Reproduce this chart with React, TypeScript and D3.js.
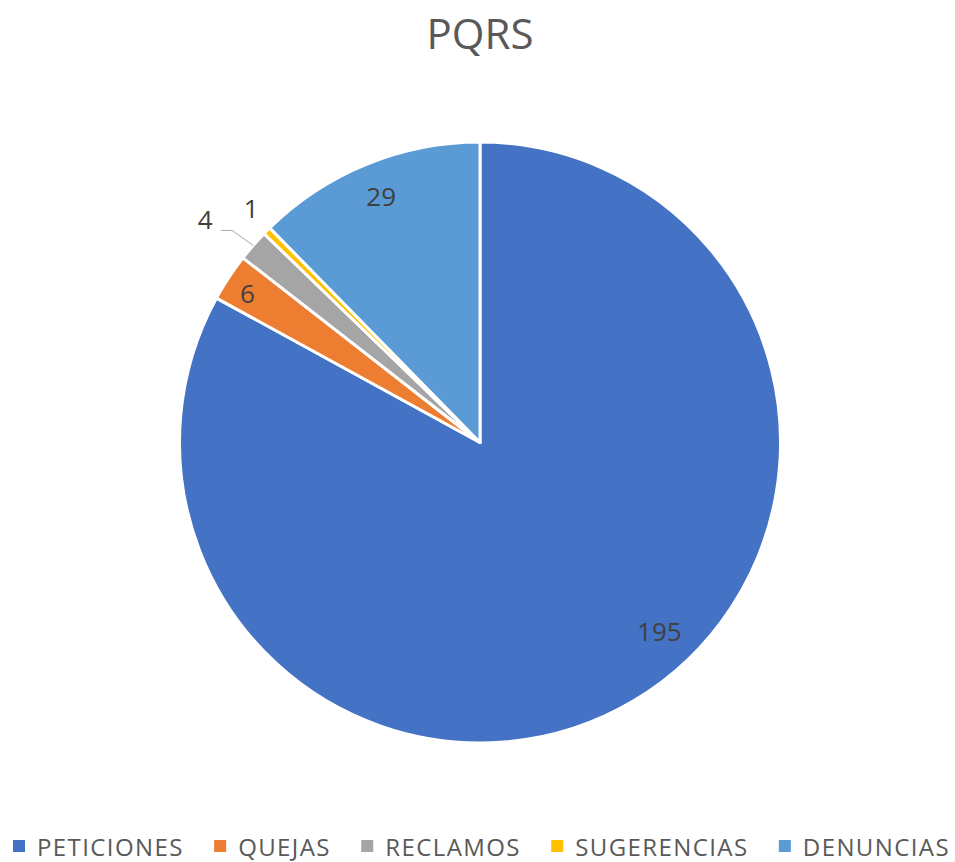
import * as d3 from "d3";
import React, { useEffect, useRef } from "react";

const categories = ["PETICIONES", "QUEJAS", "RECLAMOS", "SUGERENCIAS", "DENUNCIAS"];
const values = [195, 6, 4, 1, 29];
const colors = ["#4472C4", "#ED7D31", "#A5A5A5", "#FFC000", "#5B9BD5"];
// label placement (fraction of radius, angle shift in degrees), like excel "best fit"
const labelRadius = [0.865, 0.92, 1.18, 1.09, 0.885];
const labelShift = [-13, -0.6, -1.8, 0.9, 0.4];

const W = 955;
const H = 862;

function drawChart(node: SVGSVGElement) {
  const svg = d3.select(node);
  svg.selectAll("*").remove();

  // title
  svg
    .append("text")
    .attr("x", 480)
    .attr("y", 49)
    .attr("text-anchor", "middle")
    .attr("fill", "#595959")
    .style("font-family", "'Open Sans', sans-serif")
    .style("font-size", "42px")
    .text("PQRS");

  const cx = 480,
    cy = 442.5,
    R = 300.5;

  const data = categories.map((c, i) => ({ name: c, value: values[i], color: colors[i], i }));
  const pie = d3
    .pie<any>()
    .sort(null)
    .value(d => d.value);
  const arcs = pie(data);
  const arc = d3.arc<any>().innerRadius(0).outerRadius(R);

  const g = svg.append("g").attr("transform", `translate(${cx},${cy})`);
  g.selectAll("path")
    .data(arcs)
    .join("path")
    .attr("d", arc)
    .attr("fill", d => d.data.color)
    .attr("stroke", "#fff")
    .attr("stroke-width", 3)
    .attr("stroke-linejoin", "round");

  // labels
  arcs.forEach((a, i) => {
    const mid = (a.startAngle + a.endAngle) / 2 + (labelShift[i] * Math.PI) / 180;
    const r = R * labelRadius[i];
    const x = Math.sin(mid) * r;
    const y = -Math.cos(mid) * r;
    g.append("text")
      .attr("x", x)
      .attr("y", y)
      .attr("text-anchor", "middle")
      .attr("dominant-baseline", "central")
      .attr("fill", "#404040")
      .style("font-family", "'Open Sans', sans-serif")
      .style("font-size", "26px")
      .text(a.data.value);

    // leader line for the small outside label
    if (i === 2) {
      const am = (a.startAngle + a.endAngle) / 2;
      const p0: [number, number] = [Math.sin(am) * R, -Math.cos(am) * R];
      const p1: [number, number] = [p0[0] - 21, p0[1] - 15];
      const p2: [number, number] = [p1[0] - 11, p1[1]];
      g.append("path")
        .attr("d", d3.line()([p0, p1, p2]))
        .attr("fill", "none")
        .attr("stroke", "#A6A6A6")
        .attr("stroke-width", 1);
    }
  });

  // legend, spread over the bottom row by measured text width
  const lg = svg.append("g");
  const items = lg
    .selectAll("g")
    .data(data)
    .join("g");
  items
    .append("rect")
    .attr("width", 12)
    .attr("height", 12)
    .attr("y", -6)
    .attr("fill", d => d.color);
  const texts = items
    .append("text")
    .attr("x", 24)
    .attr("dominant-baseline", "central")
    .attr("fill", "#595959")
    .style("font-family", "'Open Sans', sans-serif")
    .style("font-size", "24px")
    .style("letter-spacing", "1.4px")
    .text(d => d.name);

  const widths: number[] = [];
  texts.each(function () {
    widths.push((this as SVGTextElement).getComputedTextLength());
  });
  const left = 13,
    right = 950;
  const used = d3.sum(widths, w => 24 + w);
  const gap = (right - left - used) / (widths.length - 1);
  let xpos = 0;
  items.attr("transform", (d, i) => {
    const t = `translate(${xpos},0)`;
    xpos += 24 + widths[i] + gap;
    return t;
  });
  lg.attr("transform", `translate(${left},846)`);
}

export default function App() {
  const ref = useRef<SVGSVGElement>(null);
  useEffect(() => {
    if (ref.current) drawChart(ref.current);
  }, []);
  return (
    <svg
      ref={ref}
      width={W}
      height={H}
      style={{ position: "absolute", left: 0, top: 0, background: "#fff" }}
    />
  );
}
